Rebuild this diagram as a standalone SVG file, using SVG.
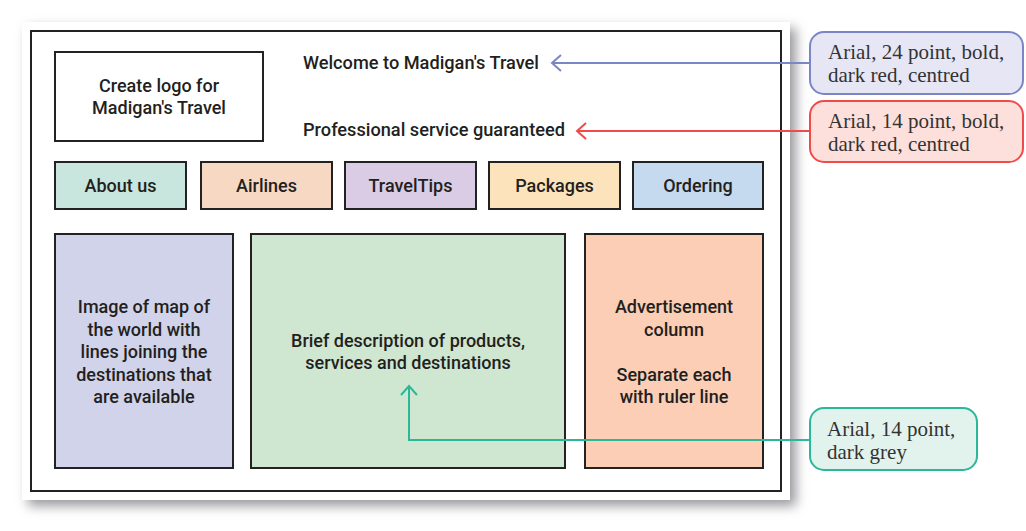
<svg xmlns="http://www.w3.org/2000/svg" width="1026" height="531" viewBox="0 0 1026 531">
<defs>
<filter id="sh" x="-10%" y="-10%" width="130%" height="130%">
<feGaussianBlur stdDeviation="6"/>
</filter>
<marker id="ab" viewBox="0 0 12 18" refX="10" refY="9" markerWidth="12" markerHeight="18" markerUnits="userSpaceOnUse" orient="auto">
<path d="M1,1 L10,9 L1,17" fill="none" stroke="#7b86c6" stroke-width="2"/>
</marker>
<marker id="ar" viewBox="0 0 12 18" refX="10" refY="9" markerWidth="12" markerHeight="18" markerUnits="userSpaceOnUse" orient="auto">
<path d="M1,1 L10,9 L1,17" fill="none" stroke="#ef4b4b" stroke-width="2"/>
</marker>
<marker id="ag" viewBox="0 0 12 18" refX="10" refY="9" markerWidth="12" markerHeight="18" markerUnits="userSpaceOnUse" orient="auto">
<path d="M1,1 L10,9 L1,17" fill="none" stroke="#2bb89a" stroke-width="2"/>
</marker>
</defs>
<style>
.bx{stroke:#222;stroke-width:2}
.t{font-family:"Roboto","Liberation Sans",sans-serif;font-weight:500;font-size:18px;fill:#231f20;text-anchor:middle}
.tl{font-family:"Roboto","Liberation Sans",sans-serif;font-weight:500;font-size:18.2px;fill:#231f20}
.c{font-family:"Liberation Serif",serif;font-size:21px;fill:#333}
</style>
<rect x="0" y="0" width="1026" height="531" fill="#fff"/>
<rect x="28" y="28" width="768" height="478" fill="#9a9a9f" filter="url(#sh)"/>
<rect x="22" y="22" width="768" height="478" fill="#fff"/>
<rect x="31" y="31" width="750" height="460" fill="none" stroke="#222" stroke-width="2"/>

<g id="logo"><rect class="bx" x="55" y="52" width="208" height="89" fill="#fff"/>
<text class="t" x="159" y="92">Create logo for</text><text class="t" x="159" y="114">Madigan's Travel</text></g>
<g id="welcome"><text class="tl" x="303" y="69">Welcome to Madigan's Travel</text></g>
<g id="professional"><text class="tl" x="303" y="136">Professional service guaranteed</text></g>

<g id="aboutus"><rect class="bx" x="55" y="162" width="131" height="47" fill="#c8e6de"/><text class="t" x="120.5" y="192">About us</text></g>
<g id="airlines"><rect class="bx" x="201" y="162" width="131" height="47" fill="#f7d8c3"/><text class="t" x="266.5" y="192">Airlines</text></g>
<g id="traveltips"><rect class="bx" x="345" y="162" width="131" height="47" fill="#d9cce4"/><text class="t" x="410.5" y="192">TravelTips</text></g>
<g id="packages"><rect class="bx" x="489" y="162" width="131" height="47" fill="#fde3bb"/><text class="t" x="554.5" y="192">Packages</text></g>
<g id="ordering"><rect class="bx" x="633" y="162" width="130" height="47" fill="#c5d9ef"/><text class="t" x="698" y="192">Ordering</text></g>

<g id="map"><rect class="bx" x="55" y="234" width="178" height="234" fill="#d0d3ea"/>
<text class="t" x="144" y="313">Image of map of</text><text class="t" x="144" y="336">the world with</text><text class="t" x="144" y="358">lines joining the</text><text class="t" x="144" y="381">destinations that</text><text class="t" x="144" y="403">are available</text></g>
<g id="description"><rect class="bx" x="251" y="234" width="314" height="234" fill="#cfe6d1"/>
<text class="t" x="408" y="347">Brief description of products,</text><text class="t" x="408" y="369">services and destinations</text></g>
<g id="advert"><rect class="bx" x="585" y="234" width="178" height="234" fill="#fbceb5"/>
<text class="t" x="674" y="313">Advertisement</text><text class="t" x="674" y="336">column</text><text class="t" x="674" y="381">Separate each</text><text class="t" x="674" y="403">with ruler line</text></g>

<g id="connectors" fill="none" stroke-width="2">
<path d="M810,63 H552" stroke="#7b86c6" marker-end="url(#ab)"/>
<path d="M810,131 H577" stroke="#ef4b4b" marker-end="url(#ar)"/>
<path d="M810,440 H409 V386" stroke="#2bb89a" marker-end="url(#ag)"/>
</g>

<g id="note-24pt"><rect x="810" y="32" width="213" height="62" rx="14" fill="#e6e6f5" stroke="#7b86c6" stroke-width="2"/>
<text class="c" x="828" y="59">Arial, 24 point, bold,</text><text class="c" x="828" y="82">dark red, centred</text></g>
<g id="note-14pt"><rect x="810" y="101" width="213" height="61" rx="14" fill="#fde0dc" stroke="#ef4b4b" stroke-width="2"/>
<text class="c" x="828" y="128">Arial, 14 point, bold,</text><text class="c" x="828" y="151">dark red, centred</text></g>
<g id="note-grey"><rect x="810" y="408" width="167" height="62" rx="14" fill="#e2f2ec" stroke="#2bb89a" stroke-width="2"/>
<text class="c" x="827" y="436">Arial, 14 point,</text><text class="c" x="827" y="459">dark grey</text></g>
</svg>
